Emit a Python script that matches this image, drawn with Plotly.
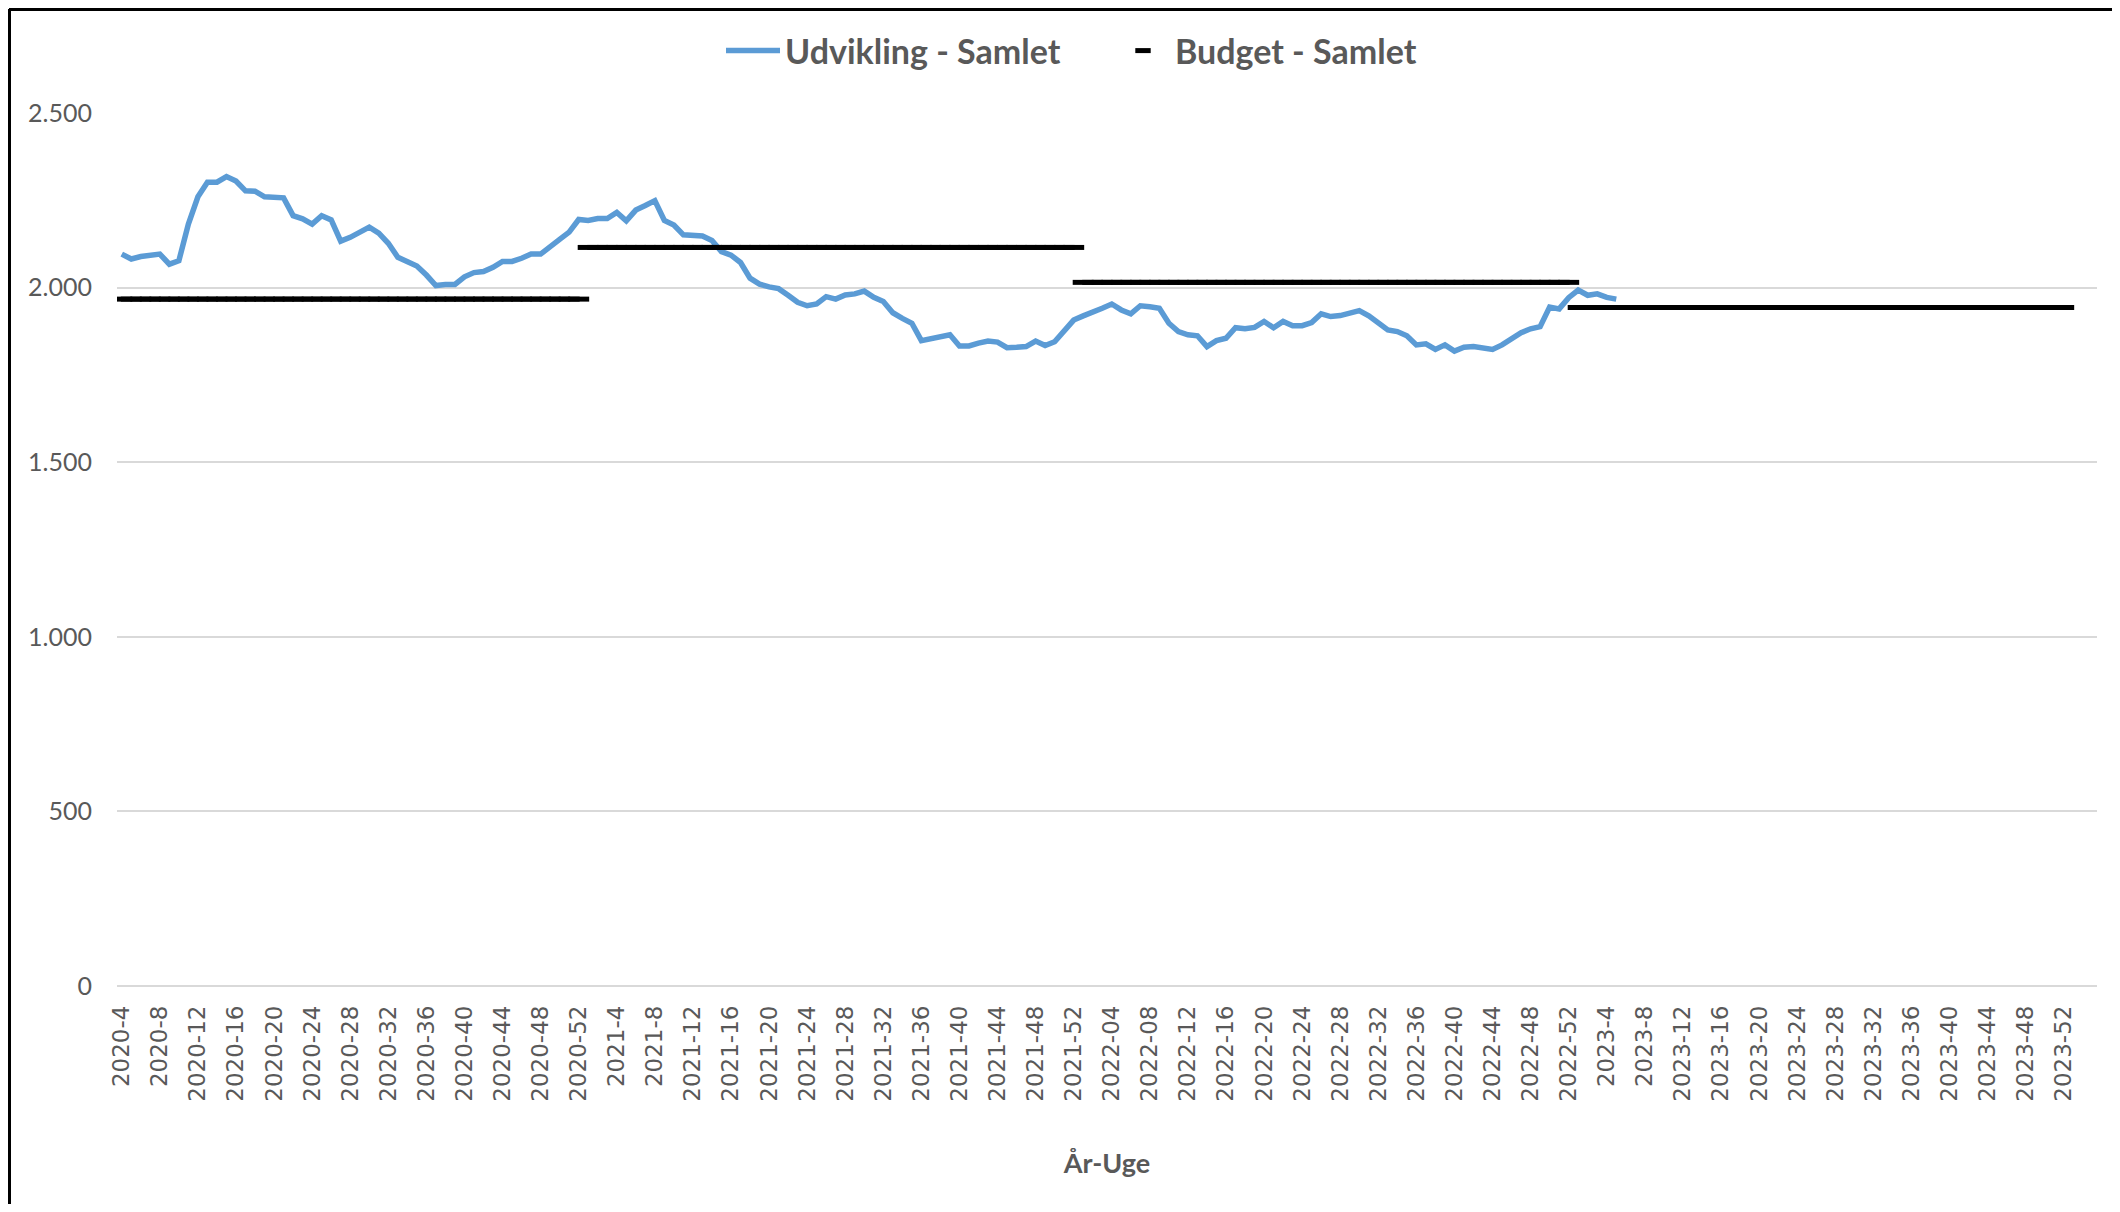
import plotly.graph_objects as go

# ---- categories (År-Uge) ----
weeks_2020 = [f"2020-{w}" for w in range(4, 53)]
weeks_2021 = [f"2021-{w}" for w in range(1, 53)]
weeks_2022 = [f"2022-{w:02d}" for w in range(1, 53)]
weeks_2023 = [f"2023-{w}" for w in range(1, 53)]
categories = weeks_2020 + weeks_2021 + weeks_2022 + weeks_2023

# ---- Udvikling - Samlet (weekly values) ----
udv_2020 = [2096, 2082, 2089, 2093, 2096, 2067, 2077, 2182, 2260, 2302,
            2302, 2318, 2305, 2277, 2276, 2260, 2257, 2257, 2206, 2197,
            2182, 2206, 2194, 2133, 2144, 2157, 2173, 2156, 2127, 2087,
            2075, 2062, 2036, 2006, 2009, 2009, 2031, 2043, 2046, 2058,
            2075, 2075, 2084, 2096, 2096, 2115, 2138, 2159, 2195]
udv_2021 = [2192, 2198, 2198, 2215, 2191, 2222, 2235, 2249, 2192, 2179,
            2151, 2148, 2148, 2135, 2103, 2093, 2072, 2027, 2010, 2002,
            1997, 1978, 1958, 1948, 1953, 1974, 1967, 1979, 1982, 1990,
            1972, 1960, 1928, 1912, 1898, 1848, 1855, 1862, 1865, 1833,
            1833, 1841, 1847, 1844, 1828, 1829, 1831, 1847, 1834, 1845,
            1876, 1907]
udv_2022 = [1919, 1928, 1941, 1953, 1936, 1925, 1948, 1945, 1941, 1898,
            1874, 1865, 1862, 1831, 1848, 1855, 1885, 1882, 1886, 1903,
            1885, 1903, 1891, 1891, 1900, 1925, 1917, 1920, 1927, 1934,
            1919, 1900, 1879, 1874, 1862, 1836, 1839, 1823, 1836, 1818,
            1829, 1831, 1827, 1823, 1836, 1855, 1871, 1882, 1888, 1944,
            1939, 1971]
udv_2023 = [1993, 1978, 1982, 1972, 1967]
udvikling = udv_2020 + udv_2021 + udv_2022 + udv_2023

# ---- Budget - Samlet (one level per year) ----
budget_2020 = 1967
budget_2021 = 2115
budget_2022 = 2015
budget_2023 = 1943
budget = ([budget_2020] * len(weeks_2020) + [budget_2021] * len(weeks_2021)
          + [budget_2022] * len(weeks_2022) + [budget_2023] * len(weeks_2023))

tick_labels = categories[::4]
y_ticks = [0, 500, 1000, 1500, 2000, 2500]

# page has an 8px body margin; figure placed at (8, 8)
OFF = 8
W, H = 2104, 1196
L, R, T, B = 109, 15, 105, 218
pw, ph = W - L - R, H - T - B

def px_x(page_x):
    return (page_x - OFF - L) / pw

def px_y(page_y):
    return (H - B - (page_y - OFF)) / ph

fig = go.Figure()
fig.add_trace(go.Scatter(
    x=categories[:len(udvikling)], y=udvikling, mode="lines",
    name="Udvikling - Samlet",
    line=dict(color="#5B9BD5", width=5.5),
))
fig.add_trace(go.Scatter(
    x=categories, y=budget, mode="markers",
    name="Budget - Samlet", showlegend=False, legendgroup="budget",
    marker=dict(symbol="line-ew", size=15, color="black",
                line=dict(color="black", width=5)),
))
# legend entry for the budget series (smaller dash, as in the original legend)
fig.add_trace(go.Scatter(
    x=[None], y=[None], mode="markers",
    name="Budget - Samlet", legendgroup="budget",
    marker=dict(symbol="line-ew", size=11, color="black",
                line=dict(color="black", width=6)),
))

fig.update_layout(
    width=W, height=H,
    margin=dict(l=L, r=R, t=T, b=B),
    paper_bgcolor="white", plot_bgcolor="white",
    separators=",.",
    showlegend=True,
    legend=dict(orientation="h", x=px_x(1111), xanchor="center",
                y=px_y(51), yanchor="middle",
                font=dict(family="Lato", size=34, color="#595959", weight="bold"),
                itemwidth=54, entrywidth=321, entrywidthmode="pixels",
                tracegroupgap=0),
    xaxis=dict(
        type="category", categoryorder="array", categoryarray=categories,
        range=[-0.5, 207.5],
        tickmode="array", tickvals=tick_labels, ticktext=tick_labels,
        tickangle=-90, ticks="", ticklabelstandoff=14,
        tickfont=dict(family="DejaVu Sans", size=23, color="#595959"),
        showgrid=False, showline=False, zeroline=False,
        title=dict(text="År-Uge", standoff=53,
                   font=dict(family="Lato", size=27, color="#595959", weight="bold")),
    ),
    yaxis=dict(
        range=[0, 2500], tickvals=y_ticks, tickformat=",d",
        ticks="", ticklabelstandoff=24,
        tickfont=dict(family="Lato", size=25, color="#595959"),
        showgrid=True, gridcolor="#D9D9D9", gridwidth=2,
        zeroline=True, zerolinecolor="#D9D9D9", zerolinewidth=2,
        showline=False,
    ),
    shapes=[
        dict(type="line", xref="paper", yref="paper",
             x0=px_x(9), x1=px_x(2130), y0=px_y(9.5), y1=px_y(9.5),
             line=dict(color="black", width=3)),
        dict(type="line", xref="paper", yref="paper",
             x0=px_x(9.5), x1=px_x(9.5), y0=px_y(9), y1=px_y(1220),
             line=dict(color="black", width=3)),
    ],
)

fig.write_html("out.html")
